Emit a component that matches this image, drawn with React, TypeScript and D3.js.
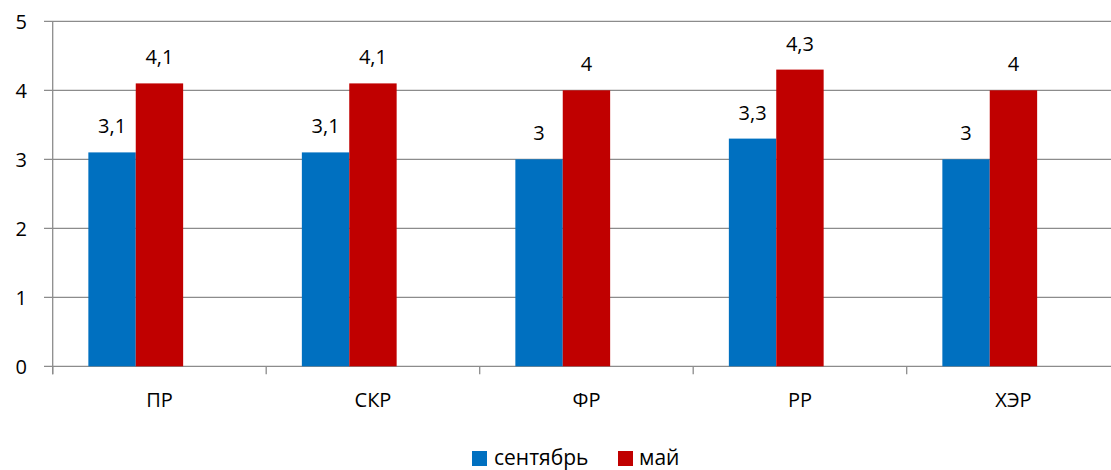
import React from "react";
import * as d3 from "d3";

const categories = ["ПР", "СКР", "ФР", "РР", "ХЭР"];
const september = [3.1, 3.1, 3.0, 3.3, 3.0];
const may = [4.1, 4.1, 4.0, 4.3, 4.0];
const seriesNames = ["сентябрь", "май"];
const yTicks = [0, 1, 2, 3, 4, 5];

const W = 1111;
const H = 470;
const FONT = "'Open Sans', 'Noto Sans', sans-serif";
const BLUE = "#0070C0";
const RED = "#C00000";
const GRID = "#8c8c8c";

const fmt = (v: number) => String(v).replace(".", ",");

export default function App() {
  const x = d3
    .scaleBand<string>()
    .domain(categories)
    .range([52.7, 1120.2])
    .paddingInner(0.334)
    .paddingOuter(0.167);
  const slot = d3
    .scaleBand<string>()
    .domain(["s0", "s1", "s2"])
    .range([0, x.bandwidth()]);
  const y = d3.scaleLinear().domain([0, 5]).range([366.3, 21.3]);

  const series = [
    { name: seriesNames[0], values: september, color: BLUE, key: "s0" },
    { name: seriesNames[1], values: may, color: RED, key: "s1" },
  ];

  const x0 = x.range()[0];
  const boundaries = d3.range(categories.length + 1).map((i) => x0 + i * x.step());

  return (
    <svg
      width={W}
      height={H}
      style={{ position: "absolute", left: 0, top: 0, background: "#fff" }}
      fontFamily={FONT}
    >
      {yTicks.map((t) => (
        <g key={t}>
          <line x1={44} x2={W} y1={y(t)} y2={y(t)} stroke={GRID} strokeWidth={1.3} />
          <text x={27} y={y(t)} dy="0.36em" textAnchor="end" fontSize={20} fill="#000">
            {t}
          </text>
        </g>
      ))}
      <line x1={x0} x2={x0} y1={y(5)} y2={y(0) + 8} stroke={GRID} strokeWidth={1.3} />
      {boundaries.map((b, i) => (
        <line key={i} x1={b} x2={b} y1={y(0)} y2={y(0) + 8} stroke={GRID} strokeWidth={1.3} />
      ))}
      {series.map((s) =>
        categories.map((c, i) => {
          const bx = (x(c) as number) + (slot(s.key) as number);
          const v = s.values[i];
          return (
            <g key={s.name + c}>
              <rect
                x={bx}
                y={y(v)}
                width={slot.bandwidth()}
                height={y(0) - y(v)}
                fill={s.color}
              />
              <text
                x={bx + slot.bandwidth() / 2}
                y={y(v) - 19}
                textAnchor="middle"
                fontSize={20}
                fill="#000"
              >
                {fmt(v)}
              </text>
            </g>
          );
        })
      )}
      {categories.map((c) => (
        <text
          key={c}
          x={(x(c) as number) + x.bandwidth() / 2}
          y={407}
          textAnchor="middle"
          fontSize={20}
          fill="#000"
        >
          {c}
        </text>
      ))}
      <g>
        <rect x={472} y={451} width={15} height={15} fill={BLUE} />
        <text x={494} y={465} fontSize={21} fill="#000">
          {seriesNames[0]}
        </text>
        <rect x={618} y={451} width={15} height={15} fill={RED} />
        <text x={639} y={465} fontSize={21} fill="#000">
          {seriesNames[1]}
        </text>
      </g>
    </svg>
  );
}
